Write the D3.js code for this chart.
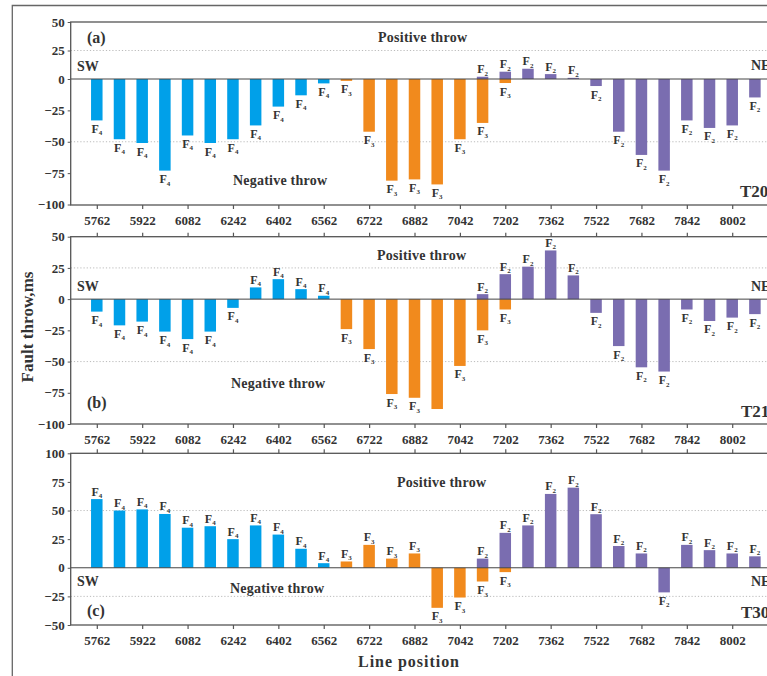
<!DOCTYPE html>
<html>
<head>
<meta charset="utf-8">
<script src="https://cdn.jsdelivr.net/npm/d3@7"></script>
<style>
	body { margin: 0; background: #fff; }
	svg text { font-family: "Liberation Serif", "Times New Roman", serif; font-weight: bold; fill: #333; }
</style>
</head>
<body>
<div id="chart"></div>
<script>
// survey lines (x categories) and the ones that get a tick label
var lines = [5762, 5842, 5922, 6002, 6082, 6162, 6242, 6322, 6402, 6482, 6562, 6642, 6722, 6802, 6882,
	6962, 7042, 7122, 7202, 7282, 7362, 7442, 7522, 7602, 7682, 7762, 7842, 7922, 8002, 8082];
var tickLines = [5762, 5922, 6082, 6242, 6402, 6562, 6722, 6882, 7042, 7202, 7362, 7522, 7682, 7842, 8002];

// which lines each fault is picked on
var f4Lines = [5762, 5842, 5922, 6002, 6082, 6162, 6242, 6322, 6402, 6482, 6562];
var f3Lines = [6642, 6722, 6802, 6882, 6962, 7042, 7122, 7202];
var f2Lines = [7122, 7202, 7282, 7362, 7442, 7522, 7602, 7682, 7762, 7842, 7922, 8002, 8082];

// fault throw (ms) - T20
var t20F4 = [-33, -48, -51, -73, -45, -51, -48, -37, -22, -13, -3.5];
var t20F3 = [-1.5, -42, -81, -80, -84, -48, -35, -3.2];
var t20F2 = [2, 6.4, 9, 4.3, 1, -5.6, -42, -60.5, -73, -33, -39, -37, -14.7];

// T21
var t21F4 = [-10, -21, -18, -26, -32, -26, -7, 9.4, 16, 8, 2.7];
var t21F3 = [-24, -40, -76, -79, -88, -53.5, -25, -8.3];
var t21F2 = [4, 20, 26, 39, 19, -11, -37.6, -54.6, -58, -8.3, -17.5, -14.8, -12];

// T30
var t30F4 = [60, 50, 51, 47, 35, 36.3, 25, 37, 29, 16.6, 4];
var t30F3 = [5.5, 20, 8, 12.5, -35, -26, -12, -3.8];
var t30F2 = [8, 30.5, 37, 64.5, 70, 46.8, 19, 12.5, -21.5, 20, 15.4, 12.5, 10];

// y ticks and dotted grid values
var yTicksT20 = [50, 25, 0, -25, -50, -75, -100];
var yTicksT21 = [50, 25, 0, -25, -50, -75, -100];
var yTicksT30 = [100, 75, 50, 25, 0, -25, -50];
var gridT20 = [25, -50];
var gridT21 = [25, -50];
var gridT30 = [50, -25];

// labels missing in the figure: [fault, line]
var t21Hidden = [[3, 6962]];

var faultColors = { 4: "#00a0e9", 3: "#f18a1d", 2: "#7a6db0" };

var W = 767, H = 676;
var left = 70.7, right = 781;

var svg = d3.select("#chart").append("svg")
	.attr("width", W)
	.attr("height", H);

// outer figure border
svg.append("path")
	.attr("d", "M12.3," + H + "V5.5H" + W)
	.attr("fill", "none")
	.attr("stroke", "#666")
	.attr("stroke-width", 1.3);

var x = d3.scaleLinear().domain([5670, 8174]).range([left, right]);

// the (a) panel of the figure has its zero line a bit high, so its scale is piecewise
var panels = [
	{
		tag: "(a)", name: "T20", top: 22, bottom: 205, domain: [-100, 0, 50], range: [204.5, 79, 22], ticks: yTicksT20, grid: gridT20,
		series: [[4, f4Lines, t20F4], [3, f3Lines, t20F3], [2, f2Lines, t20F2]], hidden: [], topTicks: false,
		txt: { tag: [87, 43], pos: [378, 41.5], neg: [233, 185], sw: [77, 70.7], ne: [751, 70], t: [740, 196.7] }
	},
	{
		tag: "(b)", name: "T21", top: 236.7, bottom: 424, domain: [-100, 50], range: [424, 236.7], ticks: yTicksT21, grid: gridT21,
		series: [[4, f4Lines, t21F4], [3, f3Lines, t21F3], [2, f2Lines, t21F2]], hidden: t21Hidden, topTicks: true,
		txt: { tag: [87, 408], pos: [377, 260], neg: [231, 388], sw: [77, 291], ne: [751, 291], t: [741, 416.7] }
	},
	{
		tag: "(c)", name: "T30", top: 453.3, bottom: 625, domain: [-50, 100], range: [625, 453.3], ticks: yTicksT30, grid: gridT30,
		series: [[4, f4Lines, t30F4], [3, f3Lines, t30F3], [2, f2Lines, t30F2]], hidden: [], topTicks: true,
		txt: { tag: [87, 616], pos: [397, 487], neg: [230, 593], sw: [77, 586], ne: [751, 586], t: [741, 618] }
	}
];

var barW = 11.5;

panels.forEach(function (p) {
	var y = d3.scaleLinear().domain(p.domain).range(p.range);
	var g = svg.append("g");

	// dotted grid
	g.selectAll(".grid").data(p.grid).enter().append("line")
		.attr("x1", left).attr("x2", right)
		.attr("y1", function (d) { return y(d); })
		.attr("y2", function (d) { return y(d); })
		.attr("stroke", "#aaa")
		.attr("stroke-width", 0.8)
		.attr("stroke-dasharray", "1.2,2");

	// bars
	p.series.forEach(function (s) {
		var fault = s[0], ls = s[1], vals = s[2];
		var rows = ls.map(function (l, i) { return { line: l, v: vals[i] }; });
		g.selectAll(null).data(rows).enter().append("rect")
			.attr("x", function (d) { return x(d.line) - barW / 2; })
			.attr("y", function (d) { return y(Math.max(0, d.v)); })
			.attr("width", barW)
			.attr("height", function (d) { return Math.abs(y(d.v) - y(0)); })
			.attr("fill", faultColors[fault]);

		// F labels
		var shown = rows.filter(function (d) {
			return !p.hidden.some(function (h) { return h[0] == fault && h[1] == d.line; });
		});
		var t = g.selectAll(null).data(shown).enter().append("text")
			.attr("x", function (d) { return x(d.line); })
			.attr("y", function (d) { return d.v >= 0 ? y(d.v) - 3.5 : y(d.v) + 12.5; })
			.attr("text-anchor", "middle")
			.style("font-size", "12px")
			.text("F");
		t.append("tspan")
			.attr("dy", 2.5)
			.style("font-size", "7px")
			.text(fault);
	});

	// zero line
	g.append("line")
		.attr("x1", left).attr("x2", right)
		.attr("y1", y(0)).attr("y2", y(0))
		.attr("stroke", "#444")
		.attr("stroke-width", 1);

	// frame
	g.append("rect")
		.attr("x", left).attr("y", p.top)
		.attr("width", right - left).attr("height", p.bottom - p.top)
		.attr("fill", "none")
		.attr("stroke", "#555")
		.attr("stroke-width", 1.3);

	// y axis
	var ya = g.append("g")
		.attr("transform", "translate(" + left + ",0)")
		.call(d3.axisLeft(y).tickValues(p.ticks).tickSize(3).tickPadding(3)
			.tickFormat(function (d) { return d < 0 ? "\u2212" + (-d) : d; }));
	ya.select(".domain").remove();
	ya.selectAll("line").attr("stroke", "#555");
	ya.selectAll("text").style("font-size", "13px").attr("fill", "#333");

	// bottom axis with labels
	var xa = g.append("g")
		.attr("transform", "translate(0," + p.bottom + ")")
		.call(d3.axisBottom(x).tickValues(tickLines).tickSize(4).tickPadding(7).tickFormat(d3.format("d")));
	xa.select(".domain").remove();
	xa.selectAll("line").attr("stroke", "#555").attr("stroke-width", 1.2);
	xa.selectAll("text").style("font-size", "13px").attr("fill", "#333");

	if (p.topTicks) {
		var xt = g.append("g")
			.attr("transform", "translate(0," + p.top + ")")
			.call(d3.axisTop(x).tickValues(tickLines).tickSize(4).tickFormat(""));
		xt.select(".domain").remove();
		xt.selectAll("line").attr("stroke", "#555").attr("stroke-width", 1.2);
	}

	// annotations
	g.append("text").attr("x", p.txt.tag[0]).attr("y", p.txt.tag[1]).style("font-size", "16px").text(p.tag);
	g.append("text").attr("x", p.txt.pos[0]).attr("y", p.txt.pos[1]).style("font-size", "14px")
		.attr("textLength", 89).attr("lengthAdjust", "spacing").text("Positive throw");
	g.append("text").attr("x", p.txt.neg[0]).attr("y", p.txt.neg[1]).style("font-size", "14px")
		.attr("textLength", 94).attr("lengthAdjust", "spacing").text("Negative throw");
	g.append("text").attr("x", p.txt.sw[0]).attr("y", p.txt.sw[1]).style("font-size", "14px").text("SW");
	g.append("text").attr("x", p.txt.ne[0]).attr("y", p.txt.ne[1]).style("font-size", "14px").text("NE");
	g.append("text").attr("x", p.txt.t[0]).attr("y", p.txt.t[1]).style("font-size", "17px").text(p.name);
});

// axis titles
svg.append("text")
	.attr("transform", "translate(33,327) rotate(-90)")
	.attr("text-anchor", "middle")
	.style("font-size", "17px")
	.attr("textLength", 111).attr("lengthAdjust", "spacing")
	.text("Fault throw,ms");

svg.append("text")
	.attr("x", 408.5).attr("y", 667)
	.attr("text-anchor", "middle")
	.style("font-size", "16px")
	.attr("textLength", 101).attr("lengthAdjust", "spacing")
	.text("Line position");
</script>
</body>
</html>
